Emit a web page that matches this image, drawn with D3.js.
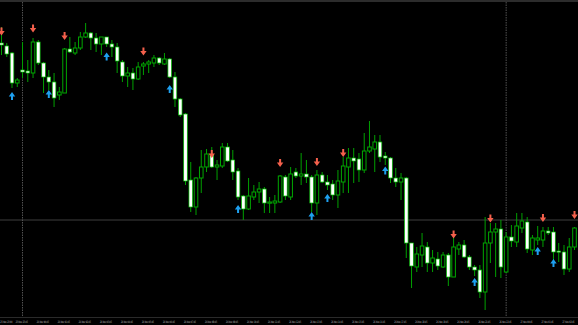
<!DOCTYPE html>
<html><head><meta charset="utf-8">
<script src="https://cdn.jsdelivr.net/npm/d3@7"></script>
<style>html,body{margin:0;padding:0;background:#000;overflow:hidden}</style>
</head><body>
<svg id="chart" width="578" height="325"></svg>
<script>
const candleOpen = [
  1.2957,1.2954,1.2947,1.2917,1.2930,1.2929,1.2927,1.2958,1.2937,1.2923,
  1.2918,1.2905,1.2907,1.2951,1.2947,1.2952,1.2963,1.2967,1.2962,1.2956,
  1.2963,1.2956,1.2953,1.2938,1.2924,1.2927,1.2921,1.2934,1.2936,1.2937,
  1.2942,1.2936,1.2941,1.2923,1.2901,1.2886,1.2820,1.2793,1.2822,1.2833,
  1.2845,1.2833,1.2834,1.2853,1.2840,1.2829,1.2804,1.2791,1.2803,1.2808,
  1.2811,1.2797,1.2797,1.2798,1.2823,1.2803,1.2828,1.2824,1.2826,1.2823,
  1.2797,1.2825,1.2818,1.2816,1.2805,1.2818,1.2833,1.2842,1.2841,1.2830,
  1.2849,1.2851,1.2858,1.2844,1.2842,1.2822,1.2818,1.2822,1.2757,1.2733,
  1.2745,1.2753,1.2737,1.2741,1.2733,1.2745,1.2723,1.2751,1.2755,1.2743,
  1.2733,1.2730,1.2708,1.2757,1.2768,1.2771,1.2728,1.2763,1.2758,1.2772,
  1.2778,1.2750,1.2760,1.2760,1.2769,1.2768,1.2749,1.2748,1.2731,1.2753
];
const candleHigh = [
  1.2973,1.2957,1.2948,1.2922,1.2958,1.2940,1.2962,1.2960,1.2938,1.2930,
  1.2927,1.2913,1.2952,1.2963,1.2958,1.2968,1.2977,1.2968,1.2967,1.2963,
  1.2963,1.2960,1.2957,1.2940,1.2933,1.2932,1.2938,1.2938,1.2940,1.2945,
  1.2943,1.2947,1.2942,1.2928,1.2902,1.2887,1.2838,1.2823,1.2850,1.2851,
  1.2853,1.2840,1.2857,1.2857,1.2850,1.2832,1.2805,1.2822,1.2815,1.2818,
  1.2813,1.2803,1.2805,1.2825,1.2825,1.2833,1.2832,1.2847,1.2840,1.2825,
  1.2830,1.2828,1.2825,1.2820,1.2830,1.2843,1.2852,1.2852,1.2847,1.2867,
  1.2879,1.2865,1.2865,1.2848,1.2843,1.2832,1.2827,1.2823,1.2757,1.2753,
  1.2767,1.2758,1.2750,1.2748,1.2748,1.2747,1.2763,1.2758,1.2760,1.2745,
  1.2735,1.2735,1.2783,1.2777,1.2777,1.2780,1.2768,1.2775,1.2787,1.2787,
  1.2783,1.2765,1.2774,1.2773,1.2773,1.2773,1.2757,1.2755,1.2762,1.2773
];
const candleLow = [
  1.2945,1.2943,1.2912,1.2913,1.2922,1.2918,1.2922,1.2935,1.2907,1.2910,
  1.2893,1.2900,1.2907,1.2947,1.2945,1.2950,1.2962,1.2950,1.2948,1.2945,
  1.2953,1.2943,1.2927,1.2918,1.2913,1.2910,1.2920,1.2925,1.2927,1.2933,
  1.2935,1.2935,1.2922,1.2893,1.2883,1.2815,1.2788,1.2785,1.2807,1.2828,
  1.2832,1.2820,1.2832,1.2838,1.2820,1.2800,1.2780,1.2790,1.2800,1.2797,
  1.2787,1.2787,1.2787,1.2797,1.2800,1.2800,1.2822,1.2815,1.2817,1.2788,
  1.2785,1.2817,1.2810,1.2800,1.2792,1.2807,1.2807,1.2817,1.2818,1.2827,
  1.2847,1.2828,1.2838,1.2835,1.2817,1.2813,1.2800,1.2742,1.2712,1.2728,
  1.2733,1.2728,1.2728,1.2730,1.2732,1.2714,1.2723,1.2745,1.2742,1.2730,
  1.2724,1.2702,1.2690,1.2737,1.2723,1.2722,1.2727,1.2753,1.2753,1.2767,
  1.2747,1.2745,1.2755,1.2753,1.2765,1.2737,1.2738,1.2725,1.2728,1.2750
];
const candleClose = [
  1.2955,1.2946,1.2917,1.2920,1.2928,1.2927,1.2958,1.2937,1.2923,1.2918,
  1.2902,1.2908,1.2951,1.2948,1.2952,1.2963,1.2967,1.2962,1.2956,1.2963,
  1.2956,1.2953,1.2939,1.2924,1.2927,1.2921,1.2933,1.2936,1.2938,1.2942,
  1.2937,1.2941,1.2923,1.2901,1.2885,1.2819,1.2793,1.2822,1.2833,1.2846,
  1.2833,1.2835,1.2853,1.2839,1.2828,1.2803,1.2791,1.2804,1.2808,1.2811,
  1.2797,1.2798,1.2799,1.2824,1.2804,1.2826,1.2824,1.2826,1.2823,1.2797,
  1.2825,1.2818,1.2815,1.2805,1.2819,1.2834,1.2842,1.2839,1.2830,1.2849,
  1.2853,1.2858,1.2843,1.2842,1.2822,1.2818,1.2822,1.2757,1.2734,1.2746,
  1.2754,1.2737,1.2742,1.2734,1.2745,1.2723,1.2753,1.2755,1.2743,1.2733,
  1.2730,1.2708,1.2757,1.2768,1.2771,1.2733,1.2763,1.2759,1.2774,1.2779,
  1.2751,1.2762,1.2762,1.2769,1.2767,1.2748,1.2748,1.2731,1.2753,1.2772
];

// signal arrows (bar index, price level of arrow centre)
const sellSignalIndex = [0, 6, 12, 27, 40, 53, 60, 65, 86, 93, 103, 109];
const sellSignalPrice = [1.29685, 1.29715, 1.2964, 1.29485, 1.2846, 1.2837, 1.2838, 1.2847, 1.27655, 1.27815, 1.2782, 1.2785];
const buySignalIndex = [2, 9, 20, 32, 45, 59, 62, 73, 90, 102, 105];
const buySignalPrice = [1.2904, 1.2906, 1.29435, 1.2911, 1.2791, 1.2784, 1.2802, 1.28295, 1.2718, 1.2749, 1.2737];

const levelPrice = 1.2780;
const daySeparatorIndex = [4, 96];

const timeLabelIndex = [0,3,7,11,15,19,23,27,31,35,39,43,47,51,55,59,63,67,71,75,79,83,87,91,95,99,103,107];
const timeLabels = [
  "25 Nov 23:00","25 Nov 23:45","26 Nov 00:45","26 Nov 01:45","26 Nov 02:45","26 Nov 03:45",
  "26 Nov 04:45","26 Nov 05:45","26 Nov 06:45","26 Nov 07:45","26 Nov 08:45","26 Nov 09:45",
  "26 Nov 10:45","26 Nov 11:45","26 Nov 12:45","26 Nov 13:45","26 Nov 14:45","26 Nov 15:45",
  "26 Nov 16:45","26 Nov 17:45","26 Nov 18:45","26 Nov 19:45","26 Nov 20:45","26 Nov 21:45",
  "26 Nov 22:45","27 Nov 00:45","27 Nov 01:45","27 Nov 02:45"
];

const W = 578, H = 325, plotBottom = 317;
const svg = d3.select('#chart');
svg.append('rect').attr('width', W).attr('height', H).attr('fill', '#000');

const x = d3.scaleLinear().domain([0, candleOpen.length - 1]).range([1.5, 574.5]);
const y = d3.scaleLinear().domain([1.2683, 1.3000]).range([plotBottom, 0]);

// top border band
svg.append('rect').attr('x', 0).attr('y', 0).attr('width', W).attr('height', 2).attr('fill', '#2c2c2c');

// horizontal level line
svg.append('line')
  .attr('x1', 0).attr('x2', W)
  .attr('y1', y(levelPrice)).attr('y2', y(levelPrice))
  .attr('stroke', '#2a2a2a').attr('stroke-width', 1.5);

// period separators
svg.selectAll('line.sep').data(daySeparatorIndex).join('line')
  .attr('class', 'sep')
  .attr('x1', d => x(d)).attr('x2', d => x(d))
  .attr('y1', 2).attr('y2', plotBottom)
  .attr('stroke', '#5c5c5c').attr('stroke-width', 0.9)
  .attr('stroke-dasharray', '1.5,1');

// axis baseline
svg.append('line').attr('x1', 0).attr('x2', W).attr('y1', plotBottom + 0.5).attr('y2', plotBottom + 0.5)
  .attr('stroke', '#2a2a2a').attr('stroke-width', 1);

const candles = candleOpen.map((o, i) => ({
  i, o, h: candleHigh[i], l: candleLow[i], c: candleClose[i]
}));

const bodyW = 3.6;
const g = svg.append('g');
g.selectAll('line.wick').data(candles).join('line')
  .attr('class', 'wick')
  .attr('x1', d => x(d.i)).attr('x2', d => x(d.i))
  .attr('y1', d => y(d.h)).attr('y2', d => y(d.l))
  .attr('stroke', '#00a000').attr('stroke-width', 1);

g.selectAll('rect.body').data(candles).join('rect')
  .attr('class', 'body')
  .attr('x', d => x(d.i) - bodyW / 2)
  .attr('width', bodyW)
  .attr('y', d => y(Math.max(d.o, d.c)))
  .attr('height', d => Math.max(1.2, Math.abs(y(d.o) - y(d.c))))
  .attr('fill', d => d.c < d.o ? '#ffffff' : '#000000')
  .attr('stroke', d => d.c < d.o ? '#00c000' : '#00a800')
  .attr('stroke-width', d => d.c < d.o ? 0.7 : 1);

function downArrow(cx, cy) {
  return `M${cx-1},${cy-4} L${cx+1},${cy-4} L${cx+1},${cy-0.5} L${cx+3.2},${cy-0.5} L${cx},${cy+4} L${cx-3.2},${cy-0.5} L${cx-1},${cy-0.5} Z`;
}
function upArrow(cx, cy) {
  return `M${cx-1},${cy+4} L${cx+1},${cy+4} L${cx+1},${cy+0.5} L${cx+3.2},${cy+0.5} L${cx},${cy-4} L${cx-3.2},${cy+0.5} L${cx-1},${cy+0.5} Z`;
}

svg.selectAll('path.sell').data(sellSignalIndex).join('path')
  .attr('class', 'sell')
  .attr('d', (d, k) => downArrow(x(d), y(sellSignalPrice[k])))
  .attr('fill', '#f4604c');

svg.selectAll('path.buy').data(buySignalIndex).join('path')
  .attr('class', 'buy')
  .attr('d', (d, k) => upArrow(x(d), y(buySignalPrice[k])))
  .attr('fill', '#1ea0f0');

// time axis labels
svg.selectAll('text.tl').data(timeLabelIndex).join('text')
  .attr('class', 'tl')
  .attr('x', d => Math.max(0.3, x(d) - 1.5))
  .attr('y', 322.5)
  .attr('font-family', 'DejaVu Sans, sans-serif')
  .attr('font-size', 3.2)
  .attr('textLength', 12)
  .attr('lengthAdjust', 'spacingAndGlyphs')
  .attr('fill', '#c8c8c8')
  .text((d, k) => timeLabels[k]);
</script>
</body></html>
